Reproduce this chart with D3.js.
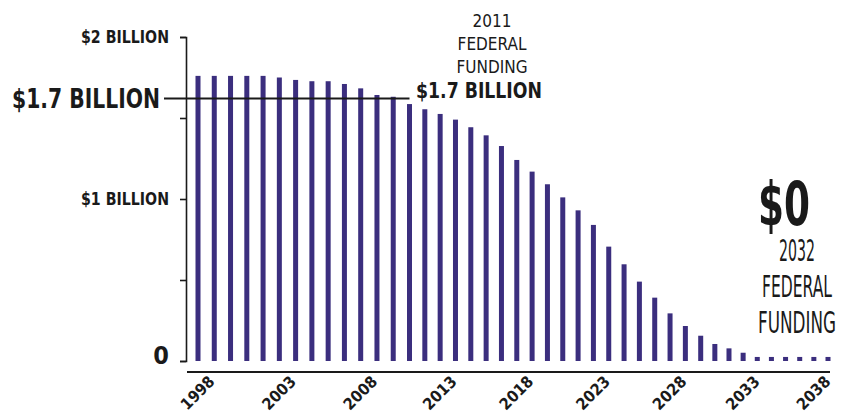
<!DOCTYPE html>
<html>
<head>
<meta charset="utf-8">
<script src="https://cdn.jsdelivr.net/npm/d3@7"></script>
<style>
  body { margin: 0; background: #fff; }
  svg { display: block; }
  text { font-family: "DejaVu Sans Condensed", sans-serif; fill: #1a1a1a; }
</style>
</head>
<body>
<svg width="843" height="414"></svg>
<script>
// years shown as bars
var years = d3.range(1998, 2040);

// funding in billions of dollars
var funding = [1.76, 1.76, 1.76, 1.76, 1.76, 1.75, 1.735, 1.727, 1.727, 1.71,
               1.683, 1.642, 1.631, 1.586, 1.554, 1.525, 1.49, 1.443, 1.393, 1.327,
               1.241, 1.169, 1.091, 1.01, 0.93, 0.84, 0.706, 0.597, 0.49, 0.391,
               0.294, 0.216, 0.156, 0.105, 0.078, 0.051, 0.025, 0.025, 0.025, 0.025,
               0.025, 0.025];

// axis ticks and labels
var yTicks = [0, 0.5, 1, 1.5, 2];
var yTickLabels = {0: "0", 1: "$1 BILLION", 2: "$2 BILLION"};
var xTickYears = [1998, 2003, 2008, 2013, 2018, 2023, 2028, 2033, 2038];

// reference line (where it is drawn) and the annotations
var refLine = 1.62, refYear = 2011;
var refNote = ["2011", "FEDERAL", "FUNDING"];
var endNote = ["2032", "FEDERAL", "FUNDING"];
var endNoteWidths = [36, 70, 78];

var svg = d3.select("svg");

// y scale: zero at the base of the bars, $2B at the top tick
var y = d3.scaleLinear().domain([0, 2]).range([361, 37]);

// bars are not spaced evenly in the original, so a few knots
var x = d3.scaleLinear()
    .domain([1998, 2011, 2030, 2039])
    .range([198, 409.5, 700.7, 828]);

var axisX = 186;

// bars
svg.append("g")
    .selectAll("rect")
    .data(years)
    .enter().append("rect")
    .attr("x", function(d) { return x(d) - 2.5; })
    .attr("width", 5)
    .attr("y", function(d, i) { return y(funding[i]); })
    .attr("height", function(d, i) { return y(0) - y(funding[i]); })
    .attr("fill", "#3b2e7e");

// y axis
var yAxis = svg.append("g")
    .attr("transform", "translate(" + axisX + ",0)")
    .call(d3.axisLeft(y)
        .tickValues(yTicks)
        .tickSize(6)
        .tickPadding(11)
        .tickFormat(function(d) { return yTickLabels[d] || ""; }));

yAxis.select(".domain").attr("stroke", "#1a1a1a").attr("stroke-width", 1.6);
yAxis.selectAll(".tick line").attr("stroke", "#1a1a1a").attr("stroke-width", 1.6);
yAxis.selectAll(".tick text")
    .style("font-family", "\"DejaVu Sans Condensed\", sans-serif")
    .style("font-weight", "bold")
    .style("font-size", function(d) { return d === 0 ? "25px" : "17px"; })
    .attr("dy", function(d) { return d === 0 ? "0.1em" : "0.32em"; })
    .attr("textLength", function(d) { return d === 0 ? null : 88; })
    .attr("lengthAdjust", "spacingAndGlyphs")
    .attr("fill", "#1a1a1a");

// x axis baseline
svg.append("line")
    .attr("x1", axisX + 1)
    .attr("x2", x(2039) + 2)
    .attr("y1", 372).attr("y2", 372)
    .attr("stroke", "#1a1a1a")
    .attr("stroke-width", 1.8);

// x tick labels, rotated
svg.append("g")
    .selectAll("text")
    .data(xTickYears)
    .enter().append("text")
    .attr("transform", function(d) { return "translate(" + (x(d) + 14) + ",379) rotate(-45)"; })
    .attr("text-anchor", "end")
    .attr("dy", "0.32em")
    .style("font-weight", "bold")
    .style("font-size", "16px")
    .text(function(d) { return d; });

// $1.7 billion reference line
svg.append("line")
    .attr("x1", 164)
    .attr("x2", x(refYear))
    .attr("y1", y(refLine)).attr("y2", y(refLine))
    .attr("stroke", "#1a1a1a")
    .attr("stroke-width", 2);

svg.append("text")
    .attr("x", 160)
    .attr("y", y(refLine))
    .attr("dy", "0.36em")
    .attr("text-anchor", "end")
    .attr("textLength", 148)
    .attr("lengthAdjust", "spacingAndGlyphs")
    .style("font-weight", "bold")
    .style("font-size", "27px")
    .text("$1.7 BILLION");

// 2011 note
svg.append("g")
    .selectAll("text")
    .data(refNote)
    .enter().append("text")
    .attr("x", 492)
    .attr("y", function(d, i) { return 27 + i * 23; })
    .attr("text-anchor", "middle")
    .style("font-size", "17px")
    .text(function(d) { return d; });

svg.append("text")
    .attr("x", 416)
    .attr("y", 98)
    .attr("textLength", 126)
    .attr("lengthAdjust", "spacingAndGlyphs")
    .style("font-weight", "bold")
    .style("font-size", "22px")
    .text("$1.7 BILLION");

// $0 note
svg.append("text")
    .attr("x", 784)
    .attr("y", 225)
    .attr("text-anchor", "middle")
    .attr("textLength", 52)
    .attr("lengthAdjust", "spacingAndGlyphs")
    .style("font-weight", "bold")
    .style("font-size", "60px")
    .text("$0");

svg.append("g")
    .selectAll("text")
    .data(endNote)
    .enter().append("text")
    .attr("x", 797)
    .attr("y", function(d, i) { return 261 + i * 36; })
    .attr("text-anchor", "middle")
    .attr("textLength", function(d, i) { return endNoteWidths[i]; })
    .attr("lengthAdjust", "spacingAndGlyphs")
    .style("font-size", "31px")
    .text(function(d) { return d; });
</script>
</body>
</html>
